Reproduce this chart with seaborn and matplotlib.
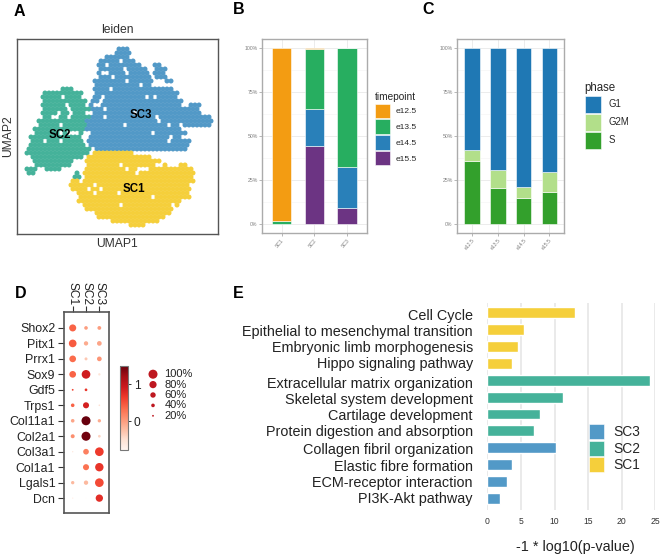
import matplotlib
matplotlib.use("Agg")
import pandas as pd
import numpy as np
import matplotlib.pyplot as plt
import seaborn as sns
from matplotlib.patches import Patch
from matplotlib.cm import ScalarMappable
from matplotlib.colors import Normalize

W, H = 664, 558
SC_COLORS = {"SC1": "#F5CF3B", "SC2": "#45B29A", "SC3": "#5299C7"}

# panel A: where the cells sit on the UMAP
umap_rows = [
    "",
    "",
    ".........................333",
    "........................3333",
    "......................333333",
    "....................33333.333",
    "....................33.33333333...33",
    "....................333333.33333..333",
    "....................3..3333.33333.333",
    "....................333.333333333.333",
    "...................33333333.333333...33",
    "...................33333333333.33",
    "...........222.....3333.333333333333333",
    "......2222222222...333333333333333333333",
    "......22222.2222...33.3333333333.3.33333",
    "......22222222222.33.33333333333333333333",
    "......222222.2222.3..33333333333333333333..333",
    "......222222.22222333.33333333333333333333333",
    "......2222.22.222..3333333333.3333333333333333",
    "......22..22.22222333.333333333333.3333333333333",
    ".....222222222222333333333333333333.3333333333333",
    ".....22222.222222333333333.3333333333.33.3333333",
    "....2222222222222333333333333333333333333",
    "....222222.2...2..333333333333333.33333333",
    "...2222222222222..33333333333333333333.33",
    "...222.222.22222.33333333333333333333.33333",
    "...22222222222222.3333333333333333333333333",
    "..2222222222222222.33333333333333333333333",
    "..2222222222222222.1111111111",
    "...2222222222222.1111111111111111",
    "....2222222222...1111111111111111111",
    "....222222222....11111111.11111111..1...11",
    "..222..2222......1111111111.11...11111111111",
    "..22..........2.1111111111111.11111111111111",
    "..............22.111111111111111111111111111",
    ".............11.1111111111111111111111111111",
    ".............111111.11111111111111111111111",
    ".............1111.11.1111111111111111111111",
    "...............1111.11111.11111111111111111",
    "...............111111111111111111.111111111",
    "...............11111111111111111111111111",
    "................111111111.111111111111.1",
    ".................1111111111111111111111",
    "...................1111111111111111111",
    "....................11111111111111111",
    ".......................111111111111",
    "............................1111",
]
umap_names = {"1": "SC1", "2": "SC2", "3": "SC3"}
umap_labels = {"SC1": (28.8, 36.9), "SC2": (10.2, 23.6), "SC3": (30.5, 18.4)}

# panel B: cluster composition by timepoint, bottom segment first
b_clusters = ["SC1", "SC2", "SC3"]
b_timepoints = ["e15.5", "e14.5", "e13.5", "e12.5"]
b_values = {
    "e15.5": [0, 44.7, 9.3],
    "e14.5": [0, 21.0, 23.5],
    "e13.5": [2.0, 34.0, 67.2],
    "e12.5": [98.0, 0.3, 0],
}
b_colors = {"e12.5": "#F39C12", "e13.5": "#27AE60", "e14.5": "#2980B9", "e15.5": "#6C3483"}

# panel C: phase by timepoint
c_timepoints = ["e12.5", "e13.5", "e14.5", "e15.5"]
c_phases = ["S", "G2M", "G1"]
c_values = {
    "S": [36.2, 20.8, 15.1, 18.3],
    "G2M": [6.1, 10.3, 6.0, 11.7],
    "G1": [57.7, 68.9, 78.9, 70.0],
}
c_colors = {"G1": "#1F78B4", "G2M": "#B2DF8A", "S": "#33A02C"}

# panel D: dot plot
d_genes = ["Shox2", "Pitx1", "Prrx1", "Sox9", "Gdf5", "Trps1", "Col11a1", "Col2a1",
           "Col3a1", "Col1a1", "Lgals1", "Dcn"]
d_clusters = ["SC1", "SC2", "SC3"]
d_expr = [
    [0.40, 0.00, 0.00], [0.45, -0.10, -0.05], [0.35, -0.30, 0.05], [0.40, 0.90, -0.55],
    [0.60, 0.70, -0.70], [0.40, 0.85, -0.50], [-0.05, 1.50, -0.10], [0.10, 1.45, -0.40],
    [-0.60, 0.20, 0.65], [-0.78, 0.30, 0.70], [-0.20, -0.20, 0.55], [-0.70, -0.75, 0.75],
]
d_pct = [
    [78, 40, 42], [85, 48, 52], [74, 33, 52], [74, 96, 26],
    [20, 30, 3], [40, 67, 18], [40, 100, 37], [44, 100, 30],
    [15, 63, 96], [1, 67, 93], [37, 48, 96], [15, 5, 81],
]
d_legend_pct = [100, 80, 60, 40, 20]

# panel E: enrichment
e_terms = ["Cell Cycle", "Epithelial to mesenchymal transition", "Embryonic limb morphogenesis",
           "Hippo signaling pathway", "Extracellular matrix organization",
           "Skeletal system development", "Cartilage development",
           "Protein digestion and absorption", "Collagen fibril organization",
           "Elastic fibre formation", "ECM-receptor interaction", "PI3K-Akt pathway"]
e_values = [13.0, 5.46, 4.56, 3.62, 24.2, 11.3, 7.84, 6.9, 10.17, 3.67, 2.88, 1.93]
e_clusters = ["SC1"] * 4 + ["SC2"] * 4 + ["SC3"] * 4
e_label_shift = [8, 7, 5, 3, 11, 9, 7, 4, 8, 7, 5, 3]

sns.set_theme(style="white")
plt.rcParams["font.family"] = ["Liberation Sans", "DejaVu Sans"]

fig = plt.figure(figsize=(W / 100, H / 100), dpi=100)


def px_axes(x0, y0, x1, y1):
    return fig.add_axes([x0 / W, 1 - y1 / H, (x1 - x0) / W, (y1 - y0) / H])


def px_text(x, y, s, **kw):
    fig.text(x / W, 1 - y / H, s, **kw)


# A
rows = []
for r, line in enumerate(umap_rows):
    for c, ch in enumerate(line):
        if ch != ".":
            rows.append((c + 0.5 * (r % 2), r, umap_names[ch]))
umap_df = pd.DataFrame(rows, columns=["umap1", "umap2", "leiden"])
ax = px_axes(17, 39, 218, 234)
sns.scatterplot(data=umap_df, x="umap1", y="umap2", hue="leiden", palette=SC_COLORS,
                s=13, linewidth=0, edgecolor="none", legend=False, ax=ax)
ax.set_xlim(-0.5, 49.75)
ax.set_ylim(48.25, -0.5)
ax.set_xticks([])
ax.set_yticks([])
ax.set_xlabel("UMAP1", fontsize=8.7, color="#333333", labelpad=3)
ax.set_ylabel("UMAP2", fontsize=8.7, color="#333333", labelpad=2)
ax.set_title("leiden", fontsize=8.7, color="#333333", pad=4)
for name, (ux, uy) in umap_labels.items():
    ax.text(ux, uy, name, fontsize=8.3, fontweight="bold", color="black", ha="center", va="center")
for s in ax.spines.values():
    s.set_color("#555555")
    s.set_linewidth(1)


def stacked(ax, cats, keys, values, colors, xlim):
    bottom = np.zeros(len(cats))
    for k in keys:
        sns.barplot(x=cats, y=values[k], bottom=bottom, color=colors[k], saturation=1,
                    width=0.6, errorbar=None, linewidth=0.4, edgecolor="white", ax=ax, zorder=3)
        bottom = bottom + np.array(values[k])
    ax.set_xlim(*xlim)
    ax.set_ylim(-5.1, 105.1)
    ax.set_yticks([0, 25, 50, 75, 100])
    ax.set_yticklabels(["0%", "25%", "50%", "75%", "100%"])
    ax.set_yticks([12.5, 37.5, 62.5, 87.5], minor=True)
    ax.grid(True, which="major", color="#ececec", lw=0.7)
    ax.grid(True, which="minor", axis="y", color="#f3f3f3", lw=0.4)
    ax.set_axisbelow(True)
    ax.tick_params(axis="both", which="major", labelsize=3.7, labelcolor="#7f7f7f", color="#9a9a9a",
                   length=2, width=0.5, pad=1, left=True, bottom=True)
    ax.tick_params(axis="y", which="minor", left=False)
    for lab in ax.get_xticklabels():
        lab.set_rotation(50)
        lab.set_ha("right")
        lab.set_rotation_mode("anchor")
    ax.set_xlabel("")
    ax.set_ylabel("")
    for s in ax.spines.values():
        s.set_color("#ababab")
        s.set_linewidth(1)


def px_legend(ax, handles, x, y, title, size, title_size, hh, hl, spacing):
    leg = ax.legend(handles=handles, title=title, loc="upper left", bbox_to_anchor=(x / W, 1 - y / H),
                    bbox_transform=fig.transFigure, frameon=False, borderpad=0, borderaxespad=0,
                    fontsize=size, title_fontsize=title_size, handleheight=hh, handlelength=hl,
                    labelspacing=spacing, handletextpad=0.7, alignment="left")
    return leg


# B
ax = px_axes(261.7, 39.3, 366.7, 233.3)
stacked(ax, b_clusters, b_timepoints, b_values, b_colors, (-0.604, 2.594))
px_legend(ax, [Patch(fc=b_colors[k], ec="white", lw=0.4, label=k) for k in reversed(b_timepoints)],
          375, 92.5, "timepoint", 6, 7.3, 2.33, 1.76, 0.13)

# C
ax = px_axes(456.7, 39.3, 564.3, 233.3)
stacked(ax, c_timepoints, c_phases, c_values, c_colors, (-0.595, 3.58))
px_legend(ax, [Patch(fc=c_colors[k], ec="white", lw=0.4, label=k) for k in reversed(c_phases)],
          584.7, 82.5, "phase", 6.9, 8.3, 2.3, 1.75, 0.14)

# D
dot_df = pd.DataFrame({
    "gene": [g for g in d_genes for _ in d_clusters],
    "cluster": d_clusters * len(d_genes),
    "expr": np.ravel(d_expr),
    "pct": np.ravel(d_pct),
})
size_map = {p: (p * 0.065) ** 2 for p in set(dot_df["pct"]) | set(d_legend_pct)}
expr_norm = Normalize(-0.78, 1.5)
ax = px_axes(63.7, 312.3, 109, 513.3)
sns.scatterplot(data=dot_df, x="cluster", y="gene", hue="expr", hue_norm=expr_norm, palette="Reds",
                size="pct", sizes=size_map, linewidth=0, legend=False, ax=ax)
ax.set_xlim(-0.675, 2.725)
ax.set_ylim(11.98, -1.01)
ax.xaxis.tick_top()
ax.tick_params(axis="x", labelsize=8.6, labelcolor="#222222", rotation=270, length=4, width=0.8,
               color="#333333", pad=1, top=True, bottom=False)
ax.tick_params(axis="y", labelsize=8.9, labelcolor="#222222", length=4, width=0.8,
               color="#333333", pad=2, left=True)
ax.set_xlabel("")
ax.set_ylabel("")
for s in ax.spines.values():
    s.set_color("#555555")
    s.set_linewidth(1.2)

cax = px_axes(119.7, 365.7, 127.7, 450)
cb = fig.colorbar(ScalarMappable(norm=expr_norm, cmap="Reds"), cax=cax, ticks=[0, 1])
cb.ax.tick_params(labelsize=8.6, labelcolor="#222222", length=2.5, width=0.7, pad=2, right=True, color="#333333")
cb.outline.set_edgecolor("#777777")
cb.outline.set_linewidth(0.8)

size_df = pd.DataFrame({"x": [0] * 5, "pct": d_legend_pct, "y": range(5)})
lax = px_axes(143, 369, 200, 421)
sns.scatterplot(data=size_df, x="x", y="y", size="pct", sizes=size_map, color="#BE1820",
                linewidth=0, legend=False, ax=lax)
lax.set_xlim(-10 / 57 * 5, 47 / 57 * 5)
lax.set_ylim(4.5, -0.5)
lax.axis("off")
for i, p in enumerate(d_legend_pct):
    lax.text(1.0, i, f"{p}%", fontsize=8.0, color="#222222", va="center", ha="left")

# E
e_df = pd.DataFrame({"term": e_terms, "value": e_values, "cluster": e_clusters})
ax = px_axes(487.3, 303.3, 655.3, 510)
sns.barplot(data=e_df, y="term", x="value", hue="cluster", palette=SC_COLORS, saturation=1,
            dodge=False, width=0.65, legend=False, ax=ax, zorder=3)
ax.set_xlim(0, 25)
ax.set_ylim(11.7, -0.57)
ax.set_xticks([0, 5, 10, 15, 20, 25])
ax.grid(True, axis="x", color="#e4e4e4", lw=1.1)
ax.set_axisbelow(True)
ax.set_yticklabels([])
ax.tick_params(axis="y", length=0)
ax.tick_params(axis="x", labelsize=6.2, labelcolor="#333333", length=0, pad=5)
for s in ax.spines.values():
    s.set_visible(False)
for i, (t, shift) in enumerate(zip(e_terms, e_label_shift)):
    ax.annotate(t, xy=(0, i), xytext=(-14.5 * 0.72, -shift / 3 * 0.72), textcoords="offset points",
                annotation_clip=False, ha="right", va="center", fontsize=10.4, color="#222222")
ax.set_xlabel("")
ax.set_ylabel("")
px_text(575, 546.7, "-1 * log10(p-value)", fontsize=10.4, color="#222222", ha="center", va="center")
ax.legend(handles=[Patch(fc=SC_COLORS[k], ec="white", lw=0.4, label=k) for k in ["SC3", "SC2", "SC1"]],
          loc="upper left", bbox_to_anchor=(589.3 / W, 1 - 424 / H), bbox_transform=fig.transFigure,
          frameon=False, borderpad=0, borderaxespad=0, fontsize=9.9, handleheight=1.3, handlelength=1.09,
          labelspacing=0.11, handletextpad=0.65)

# panel letters
for letter, x, y in [("A", 14, 11), ("B", 233, 9), ("C", 422, 9), ("D", 15, 293), ("E", 233, 293)]:
    px_text(x, y, letter, fontsize=11.5, fontweight="bold", color="black", ha="left", va="center")

fig.savefig("out.png", dpi=100, facecolor="white")
